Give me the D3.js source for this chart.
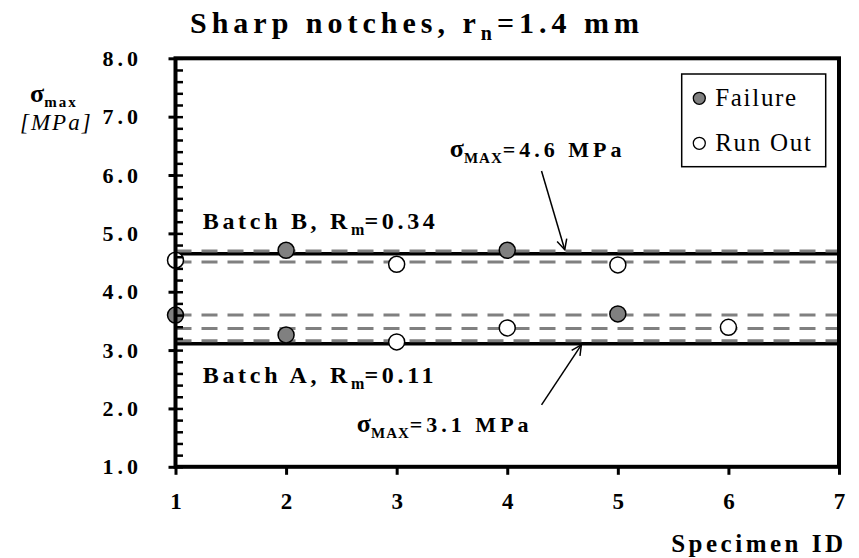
<!DOCTYPE html>
<html>
<head>
<meta charset="utf-8">
<script src="https://cdn.jsdelivr.net/npm/d3@7"></script>
<style>
  body { margin: 0; background: #fff; }
  text { font-family: "Liberation Serif", "Times New Roman", serif; }
</style>
</head>
<body>
<figure id="chart" style="margin:0"></figure>
<script>
// specimen ticks and stress ticks
const specimenTicks = [1, 2, 3, 4, 5, 6, 7];
const stressTicks = [1, 2, 3, 4, 5, 6, 7, 8];
const stressMinorTicks = d3.range(1, 8.001, 0.2);

// failures and run outs (specimen, sigma max in MPa)
const failureId = [1, 2, 2, 4, 5];
const failureStress = [3.60, 4.71, 3.26, 4.71, 3.62];
const runOutId = [1, 3, 3, 4, 5, 6];
const runOutStress = [4.54, 4.47, 3.14, 3.38, 4.46, 3.39];

// sigma MAX levels (solid) and batch scatter levels (dashed)
const solidLevels = [4.65, 3.11];
const dashedLevels = [4.70, 4.51, 3.60, 3.37, 3.16];

const legendLabels = ["Failure", "Run Out"];

// set the dimensions and margins of the graph
const margin = {top: 58.3, right: 20, bottom: 91.2, left: 175.5},
  width = 859 - margin.left - margin.right,
  height = 558 - margin.top - margin.bottom;

const root = d3.select("figure#chart")
  .append("svg")
  .attr("width", 859)
  .attr("height", 558);

const svg = root.append("g")
  .attr("transform", "translate(" + margin.left + "," + margin.top + ")");

const x = d3.scaleLinear().domain([1, 7]).range([0, width]);
const y = d3.scaleLinear().domain([1, 8]).range([height, 0]);

// title
const title = root.append("text")
  .attr("x", 190).attr("y", 33)
  .style("font-weight", "bold").style("font-size", "30px").style("letter-spacing", "5px");
title.append("tspan").text("Sharp notches, r");
title.append("tspan").attr("dy", 7).style("font-size", "20px").text("n");
title.append("tspan").attr("dy", -7).text("=1.4 mm");

// y label
const yl = root.append("text").attr("x", 30).attr("y", 102)
  .style("font-weight", "bold").style("font-size", "26px");
yl.append("tspan").text("σ");
yl.append("tspan").attr("dy", 5).style("font-size", "15px").style("letter-spacing", "2px").text("max");
root.append("text").attr("x", 20).attr("y", 130)
  .style("font-style", "italic").style("font-size", "23px").style("letter-spacing", "2px")
  .text("[MPa]");

// x label
root.append("text").attr("x", 843 + 3.5).attr("y", 552)
  .attr("text-anchor", "end")
  .style("font-weight", "bold").style("font-size", "25px").style("letter-spacing", "3.5px")
  .text("Specimen ID");

// solid and dashed level lines
svg.selectAll(".solid")
  .data(solidLevels)
  .enter().append("line")
  .attr("x1", 0).attr("x2", width)
  .attr("y1", d => y(d)).attr("y2", d => y(d))
  .attr("stroke", "#000").attr("stroke-width", 3.5);

svg.selectAll(".dashed")
  .data(dashedLevels)
  .enter().append("line")
  .attr("x1", 0).attr("x2", width)
  .attr("y1", d => y(d)).attr("y2", d => y(d))
  .attr("stroke", "#808080").attr("stroke-width", 3)
  .attr("stroke-dasharray", "16,10");

// annotations
const defs = root.append("defs");
defs.append("marker")
  .attr("id", "arrow").attr("viewBox", "0 0 12 12")
  .attr("refX", 11).attr("refY", 6)
  .attr("markerWidth", 12).attr("markerHeight", 12)
  .attr("markerUnits", "userSpaceOnUse")
  .attr("orient", "auto")
  .append("path").attr("d", "M1,1 L11,6 L1,11")
  .attr("fill", "none").attr("stroke", "#000").attr("stroke-width", 1.5);

const arrows = [
  {from: [4.31, 6.07], to: [4.52, 4.72]},
  {from: [4.31, 2.06], to: [4.67, 3.09]}
];
svg.selectAll(".arrow")
  .data(arrows)
  .enter().append("line")
  .attr("x1", d => x(d.from[0])).attr("y1", d => y(d.from[1]))
  .attr("x2", d => x(d.to[0])).attr("y2", d => y(d.to[1]))
  .attr("stroke", "#000").attr("stroke-width", 1.5)
  .attr("marker-end", "url(#arrow)");

function sigmaLabel(px, py, value) {
  const t = svg.append("text").attr("x", x(px)).attr("y", y(py))
    .style("font-weight", "bold").style("font-size", "22px");
  t.append("tspan").style("font-size", "26px").text("σ");
  t.append("tspan").attr("dy", 6).style("font-size", "15px").style("letter-spacing", "1px").text("MAX");
  t.append("tspan").attr("dy", -6).style("letter-spacing", "4px").text("=" + value + " MPa");
}
sigmaLabel(3.48, 6.31, "4.6");
sigmaLabel(2.64, 1.60, "3.1");

function batchLabel(px, py, name, rm) {
  const t = svg.append("text").attr("x", x(px)).attr("y", y(py))
    .style("font-weight", "bold").style("font-size", "24px").style("letter-spacing", "3.7px");
  t.append("tspan").text("Batch " + name + ", R");
  t.append("tspan").attr("dy", 6).style("font-size", "16px").style("letter-spacing", "0px").text("m");
  t.append("tspan").attr("dy", -6).text("=" + rm);
}
batchLabel(1.246, 5.07, "B", "0.34");
batchLabel(1.246, 2.43, "A", "0.11");

// points
svg.selectAll(".fail")
  .data(failureId)
  .enter().append("circle")
  .attr("cx", d => x(d))
  .attr("cy", (d, i) => y(failureStress[i]))
  .attr("r", 8)
  .attr("fill", "#808080").attr("stroke", "#000").attr("stroke-width", 1.5);

svg.selectAll(".run")
  .data(runOutId)
  .enter().append("circle")
  .attr("cx", d => x(d))
  .attr("cy", (d, i) => y(runOutStress[i]))
  .attr("r", 8)
  .attr("fill", "#fff").attr("stroke", "#000").attr("stroke-width", 1.5);

// axes
const gx = svg.append("g")
  .attr("transform", `translate(0, ${height})`)
  .call(d3.axisBottom(x).tickValues(specimenTicks).tickSize(8).tickPadding(18).tickFormat(d3.format("d")));
gx.select(".domain").remove();
gx.selectAll("line").attr("stroke-width", 3);
gx.selectAll("text").style("font-weight", "bold").style("font-size", "23px")
  .style("font-family", "'Liberation Serif', serif");

const gyIn = svg.append("g")
  .call(d3.axisRight(y).tickValues(stressMinorTicks).tickSize(7.5).tickFormat(""));
gyIn.select(".domain").remove();
gyIn.selectAll("line").attr("stroke-width", 2.5);

const gy = svg.append("g")
  .call(d3.axisLeft(y).tickValues(stressTicks).tickSize(7).tickPadding(26.5).tickFormat(d3.format(".1f")));
gy.select(".domain").remove();
gy.selectAll("line").attr("stroke-width", 3);
gy.selectAll("text").style("font-weight", "bold").style("font-size", "22px")
  .style("letter-spacing", "4px").style("font-family", "'Liberation Serif', serif");

// plot frame
svg.append("rect")
  .attr("x", 0).attr("y", 0).attr("width", width).attr("height", height)
  .attr("fill", "none").attr("stroke", "#000").attr("stroke-width", 4);

// legend
const legend = svg.append("g").attr("transform", "translate(506.2, 15.7)");
legend.append("rect").attr("width", 144).attr("height", 92.7)
  .attr("fill", "#fff").attr("stroke", "#000").attr("stroke-width", 1.5);
const items = legend.selectAll(".item")
  .data(legendLabels)
  .enter().append("g")
  .attr("transform", (d, i) => `translate(0, ${24.3 + i * 45})`);
items.append("circle").attr("cx", 17.6).attr("cy", 0).attr("r", 6)
  .attr("fill", (d, i) => i === 0 ? "#808080" : "#fff")
  .attr("stroke", "#000").attr("stroke-width", 1.3);
items.append("text").attr("x", 33.5).attr("y", 7.5)
  .style("font-size", "25px").style("letter-spacing", "1.7px")
  .text(d => d);
</script>
</body>
</html>
